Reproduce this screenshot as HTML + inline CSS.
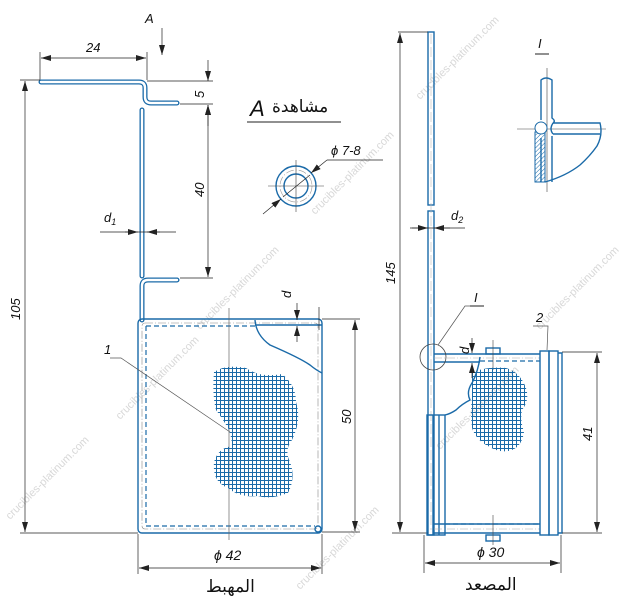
<!DOCTYPE html>
<html><head><meta charset="utf-8"><style>
html,body{margin:0;padding:0;background:#fff;width:637px;height:600px;overflow:hidden}
svg{display:block}
text{font-family:"Liberation Sans","DejaVu Sans",sans-serif;font-style:italic;fill:#111}
.ar{font-family:"DejaVu Sans","Liberation Sans",sans-serif;font-style:normal}
.d{stroke:#222;stroke-width:0.7;fill:none}
.b{stroke:#1a6aa8;stroke-width:1.4;fill:none}
.w{stroke:#1a6aa8;stroke-width:5;fill:none;stroke-linecap:round;stroke-linejoin:round}
.wi{stroke:#fff;stroke-width:2.4;fill:none;stroke-linecap:round;stroke-linejoin:round}
.c{stroke:#999;stroke-width:0.6;fill:none;stroke-dasharray:8 2 1 2}
.dash{stroke:#1a6aa8;stroke-width:1.2;fill:none;stroke-dasharray:5 3}
.wm{fill:#d8d8d8;font-size:11px;font-style:normal}
</style></head><body>
<svg width="637" height="600" viewBox="0 0 637 600" xmlns="http://www.w3.org/2000/svg">
<defs>
<marker id="a" viewBox="0 0 10 6" refX="10" refY="3" markerWidth="10" markerHeight="6" orient="auto-start-reverse" markerUnits="userSpaceOnUse"><path d="M0,0 L10,3 L0,6z" fill="#222"/></marker>
<pattern id="g" width="4" height="4" patternUnits="userSpaceOnUse"><path d="M0,0.5H4M0.5,0V4" stroke="#1a6aa8" stroke-width="1"/></pattern>
<pattern id="h" width="3" height="3" patternUnits="userSpaceOnUse" patternTransform="rotate(45)"><path d="M0,0V3" stroke="#1a6aa8" stroke-width="1"/></pattern>
</defs>
<g class="wm">
<text x="0" y="0" transform="translate(10,520) rotate(-45)" class="wm">crucibles-platinum.com</text>
<text x="0" y="0" transform="translate(120,420) rotate(-45)" class="wm">crucibles-platinum.com</text>
<text x="0" y="0" transform="translate(200,330) rotate(-45)" class="wm">crucibles-platinum.com</text>
<text x="0" y="0" transform="translate(315,215) rotate(-45)" class="wm">crucibles-platinum.com</text>
<text x="0" y="0" transform="translate(420,100) rotate(-45)" class="wm">crucibles-platinum.com</text>
<text x="0" y="0" transform="translate(300,590) rotate(-45)" class="wm">crucibles-platinum.com</text>
<text x="0" y="0" transform="translate(440,450) rotate(-45)" class="wm">crucibles-platinum.com</text>
<text x="0" y="0" transform="translate(540,330) rotate(-45)" class="wm">crucibles-platinum.com</text>
</g>

<path class="d" d="M40,52V80M147,52V80" />
<line class="d" x1="41" y1="58" x2="146" y2="58" marker-start="url(#a)" marker-end="url(#a)"/>
<text x="86" y="52" font-size="13">24</text>
<text x="145" y="23" font-size="13">A</text>
<line class="d" x1="162" y1="28" x2="162" y2="55" marker-end="url(#a)"/>
<path class="w" d="M41,82H139Q145,82 145,88V97Q145,103 151,103H177"/>
<path class="wi" d="M41,82H139Q145,82 145,88V97Q145,103 151,103H177"/>
<path class="w" d="M142,110V276"/><path class="wi" d="M142,110V276"/>
<path class="w" d="M177,280H148Q142,280 142,286V320"/><path class="wi" d="M177,280H148Q142,280 142,286V320"/>
<path class="d" d="M147,81H213M180,104H213M180,278H213"/>
<line class="d" x1="208" y1="60" x2="208" y2="81" marker-end="url(#a)"/>
<line class="d" x1="208" y1="126" x2="208" y2="105" marker-end="url(#a)"/>
<line class="d" x1="208" y1="105" x2="208" y2="277" marker-start="url(#a)" marker-end="url(#a)"/>
<text transform="translate(204,98) rotate(-90)" font-size="13">5</text>
<text transform="translate(204,197) rotate(-90)" font-size="13">40</text>
<path class="d" d="M100,232H176"/>
<line class="d" x1="125" y1="232" x2="138" y2="232" marker-end="url(#a)"/>
<line class="d" x1="160" y1="232" x2="147" y2="232" marker-end="url(#a)"/>
<text x="104" y="222" font-size="13">d<tspan font-size="9" dy="3">1</tspan></text>
<path class="d" d="M20,80H40M20,533H138"/>
<line class="d" x1="25" y1="81" x2="25" y2="532" marker-start="url(#a)" marker-end="url(#a)"/>
<text transform="translate(20,320) rotate(-90)" font-size="13">105</text>
<rect x="138" y="319" width="184" height="214" rx="4" class="b"/>
<rect x="142" y="323" width="176" height="206" rx="3" class="c" style="stroke:#888"/>
<path class="dash" d="M146,326V526H315M146,326H255"/>
<path class="b" d="M255,320Q256,335 270,345Q300,358 310,365Q316,370 322,373"/>
<path class="b" d="M255,325H322"/>
<circle cx="318" cy="529" r="3" class="b"/>
<line x1="229" y1="308" x2="229" y2="540" stroke="#666" stroke-width="0.7"/>
<path d="M214,372Q226,364 246,368Q260,378 282,374Q296,385 296,402Q302,420 292,440Q284,450 290,462Q296,478 288,493Q270,500 258,496Q240,498 228,488Q212,482 214,462Q218,448 232,446Q232,438 228,428Q222,418 216,410Q212,395 214,372z" fill="url(#g)"/>
<path class="d" d="M110,358H121L230,432" style="stroke:#555"/>
<text x="104" y="354" font-size="13">1</text>
<path class="d" d="M322,319H360M322,532H360"/>
<line class="d" x1="355" y1="320" x2="355" y2="531" marker-start="url(#a)" marker-end="url(#a)"/>
<text transform="translate(351,424) rotate(-90)" font-size="13">50</text>
<line class="d" x1="319" y1="307" x2="319" y2="330"/>
<line class="d" x1="297" y1="303" x2="297" y2="320" marker-end="url(#a)"/>
<line class="d" x1="297" y1="342" x2="297" y2="326" marker-end="url(#a)"/>
<text transform="translate(291,298) rotate(-90)" font-size="13">d</text>
<path class="d" d="M138,534V574M322,534V574"/>
<line class="d" x1="139" y1="568" x2="321" y2="568" marker-start="url(#a)" marker-end="url(#a)"/>
<text x="214" y="560" font-size="14">ϕ 42</text>
<text x="206" y="592" font-size="17" class="ar">المهبط</text>

<text x="250" y="116" font-size="22">A</text>
<text x="272" y="112" font-size="17" class="ar">مشاهدة</text>
<line x1="247" y1="122" x2="341" y2="122" stroke="#222" stroke-width="1"/>
<circle cx="296" cy="186" r="20" class="b"/>
<circle cx="296" cy="186" r="16" class="c"/>
<circle cx="296" cy="186" r="12" class="b"/>
<path d="M268,186H324M296,160V212" stroke="#444" stroke-width="0.6"/>
<line class="d" x1="263" y1="214" x2="281" y2="199" marker-end="url(#a)"/>
<line class="d" x1="283" y1="197" x2="310" y2="175"/>
<line class="d" x1="327" y1="160" x2="311" y2="173" marker-end="url(#a)"/>
<path class="d" d="M327,160H383"/>
<text x="331" y="155" font-size="13">ϕ 7-8</text>

<rect x="428" y="32" width="6" height="173" class="b"/>
<rect x="428" y="211" width="6" height="324" class="b"/>
<line x1="431" y1="34" x2="431" y2="530" stroke="#bbb" stroke-width="0.6" stroke-dasharray="10 3"/>
<path class="d" d="M398,32H428M392,533H428"/>
<line class="d" x1="400" y1="33" x2="400" y2="532" marker-start="url(#a)" marker-end="url(#a)"/>
<text transform="translate(395,284) rotate(-90)" font-size="13">145</text>
<path class="d" d="M410,228H465"/>
<line class="d" x1="412" y1="228" x2="428" y2="228" marker-end="url(#a)"/>
<line class="d" x1="450" y1="228" x2="434" y2="228" marker-end="url(#a)"/>
<text x="451" y="220" font-size="13">d<tspan font-size="9" dy="3">2</tspan></text>

<text x="538" y="48" font-size="13">I</text>
<line x1="535" y1="54" x2="549" y2="54" stroke="#222" stroke-width="1"/>
<path d="M517,129H606M547,68V192" stroke="#444" stroke-width="0.6"/>
<path class="b" d="M541,120V80Q546,76 552,80V118Q556,121 553,123"/>
<path class="b" d="M553,123H600Q603,135 597,146Q590,156 580,165Q566,176 545,182"/>
<path class="b" d="M553,134H600"/>
<path class="b" d="M553,134Q549,129 553,123M552,136V182M541,138V182"/>
<rect x="535" y="132" width="10" height="50" fill="url(#h)" stroke="#1a6aa8" stroke-width="1"/>
<ellipse cx="541" cy="128" rx="6" ry="6" fill="#fff" stroke="#1a6aa8" stroke-width="1"/>

<rect x="427" y="415" width="18" height="120" class="b"/>
<path class="b" d="M433,415V535M439,415V535"/>
<path class="b" d="M434,354H540M434,362H480M434,524H540M434,533H540"/>
<path class="dash" d="M480,361H540M445,524H540"/>
<line x1="434" y1="358" x2="540" y2="358" stroke="#aaa" stroke-width="0.6" stroke-dasharray="8 2 1 2"/>
<line x1="434" y1="529" x2="540" y2="529" stroke="#aaa" stroke-width="0.6" stroke-dasharray="8 2 1 2"/>
<rect x="540" y="351" width="9" height="184" class="b"/>
<rect x="549" y="351" width="9" height="184" class="b"/>
<path class="b" d="M558,353H562V533H558"/>
<rect x="486" y="348" width="14" height="6" class="b"/>
<rect x="486" y="535" width="14" height="6" class="b"/>
<path d="M493,340V370M493,515V545" stroke="#444" stroke-width="0.6"/>
<path class="b" d="M480,357Q478,372 472,383Q466,392 470,400Q462,404 456,410Q450,414 445,415"/>
<path d="M472,372Q490,366 506,368Q520,372 526,388Q530,400 522,410Q520,420 524,432Q522,446 512,450Q500,454 488,446Q476,440 472,428Q470,412 472,398z" fill="url(#g)"/>
<circle cx="433" cy="357" r="13" fill="none" stroke="#444" stroke-width="0.8"/>
<path class="d" d="M438,345L465,306H483" style="stroke:#555"/>
<text x="474" y="302" font-size="13">I</text>
<line x1="470" y1="306" x2="484" y2="306" stroke="#222" stroke-width="1"/>
<line class="d" x1="472" y1="338" x2="472" y2="353" marker-end="url(#a)"/>
<line class="d" x1="472" y1="378" x2="472" y2="363" marker-end="url(#a)"/>
<text transform="translate(469,354) rotate(-90)" font-size="13">d</text>
<path class="d" d="M533,326H548L547,350" style="stroke:#555"/>
<text x="536" y="322" font-size="13">2</text>
<path class="d" d="M562,352H602M562,533H602"/>
<line class="d" x1="597" y1="353" x2="597" y2="532" marker-start="url(#a)" marker-end="url(#a)"/>
<text transform="translate(592,441) rotate(-90)" font-size="13">41</text>
<path class="d" d="M424,535V573M561,535V573"/>
<line class="d" x1="425" y1="563" x2="560" y2="563" marker-start="url(#a)" marker-end="url(#a)"/>
<text x="477" y="557" font-size="14">ϕ 30</text>
<text x="465" y="590" font-size="17" class="ar">المصعد</text>
</svg>
</body></html>
